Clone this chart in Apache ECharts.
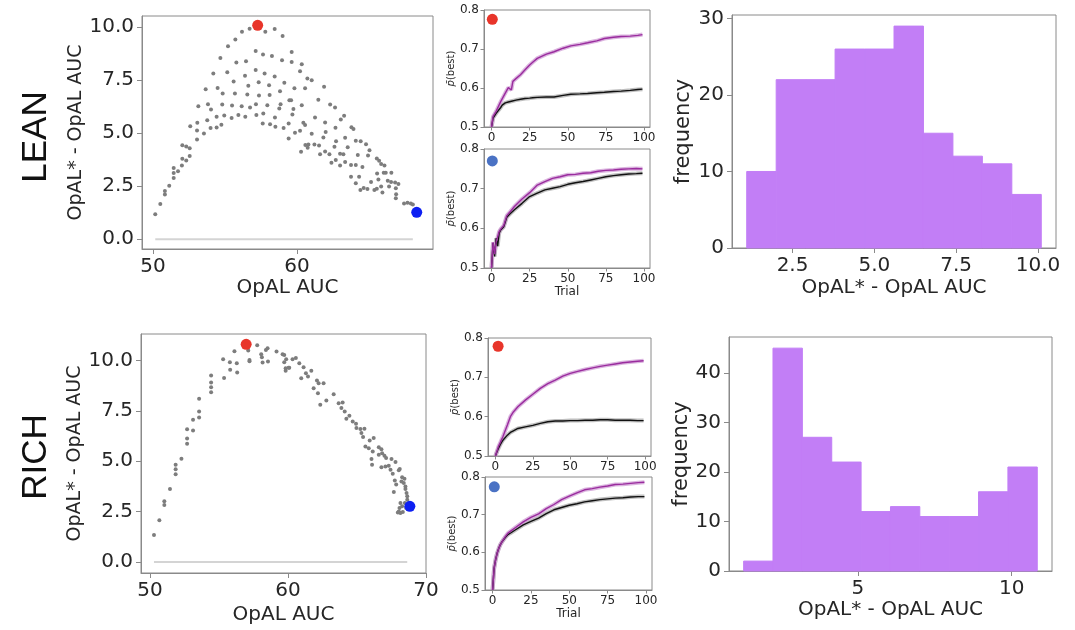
<!DOCTYPE html>
<html>
<head>
<meta charset="utf-8">
<script src="https://cdn.jsdelivr.net/npm/echarts@6/dist/echarts.min.js"></script>
<style>
  html, body { margin: 0; padding: 0; background: #fff; }
  #chart { width: 1075px; height: 630px; }
</style>
</head>
<body>
<div id="chart"></div>
<script>
// ---------- LEAN: OpAL AUC vs. advantage of OpAL* ----------
const leanAuc = [
  50.16, 50.51, 50.83, 50.83, 51.13, 51.44, 51.44, 51.44, 51.74, 52.01, 52.04, 52.31, 52.55, 52.04, 52.31, 52.55,
  52.59, 53.06, 53.06, 53.08, 53.15, 53.54, 53.77, 53.82, 54.03, 54.00, 54.42, 54.75, 53.66, 54.19, 54.42, 54.49,
  54.84, 54.68, 54.81, 54.95, 55.16, 55.21, 55.46, 55.49, 55.60, 55.69, 55.72, 55.79, 55.93, 56.16, 56.18, 56.39,
  56.41, 56.46, 56.55, 56.62, 56.71, 56.74, 57.13, 57.13, 57.15, 57.18, 57.34, 57.36, 57.62, 57.64, 57.66, 57.75,
  57.80, 57.94, 58.06, 58.10, 58.13, 58.26, 58.45, 58.45, 58.47, 58.50, 58.77, 58.82, 58.86, 58.96, 59.00, 59.07,
  59.12, 59.42, 59.42, 59.47,
  59.63, 59.63, 60.33, 60.21, 60.72, 61.02, 59.82, 60.56, 61.88, 59.59, 61.48, 59.75, 60.33, 62.30, 62.64, 59.68,
  61.25, 63.04, 63.27, 60.44, 60.56, 61.95, 63.78, 63.92, 60.21, 59.86, 61.02, 61.99, 62.67, 61.83, 63.34, 64.08,
  64.42, 64.79, 62.71, 60.58, 60.79, 61.21, 61.53, 60.74, 60.28, 61.60, 61.95, 62.25, 62.60, 62.99, 63.22, 63.52,
  64.22, 64.93, 65.03, 65.54, 65.70, 65.84, 66.07, 62.39, 62.69, 62.99, 63.34, 63.75, 64.08, 64.54, 66.02, 66.16,
  66.55, 65.56, 63.75, 64.31, 66.30, 66.53, 66.81, 67.04, 64.08, 65.14, 65.65, 65.37, 65.54, 65.84, 64.40, 64.63,
  64.89, 65.93, 66.39, 66.86, 66.88, 66.86, 67.43, 67.67, 67.90, 68.04
];
const leanGap = [
  1.18, 1.66, 2.27, 2.11, 2.52, 3.36, 3.12, 2.88, 3.20, 3.48, 3.79, 3.71, 3.92, 4.43, 4.37, 4.29,
  5.33, 4.70, 5.13, 5.49, 6.27, 4.98, 5.61, 6.36, 6.11, 5.24, 5.27, 5.39, 7.07, 7.81, 5.77, 7.13,
  6.87, 8.54, 6.35, 5.83, 7.87, 9.09, 5.71, 6.30, 7.43, 6.87, 9.41, 8.33, 5.85, 6.27, 9.78, 7.70,
  5.77, 8.39, 6.82, 7.23, 9.92, 6.21, 8.87, 7.98, 6.36, 5.85, 7.40, 6.77, 5.45, 8.70, 5.93, 7.81,
  9.78, 6.32, 7.26, 6.80, 5.42, 8.64, 7.67, 9.91, 5.74, 5.30, 6.16, 6.97, 6.36, 8.43, 9.58, 5.24,
  7.37, 4.75, 5.45, 6.55,
  8.82, 8.35, 8.25, 7.92, 7.57, 7.49, 7.11, 7.11, 7.19, 6.55, 6.57, 6.14, 6.32, 6.35, 6.21, 5.88,
  5.74, 5.64, 5.82, 5.49, 5.38, 5.50, 5.28, 5.20, 5.11, 5.02, 4.97, 5.05, 5.25, 4.80, 4.78, 4.64,
  4.62, 4.48, 4.62, 4.44, 4.47, 4.47, 4.42, 4.31, 4.12, 4.00, 4.14, 4.01, 4.36, 4.03, 4.00, 4.33,
  3.97, 3.95, 4.19, 3.81, 3.70, 3.55, 3.47, 3.61, 3.73, 3.48, 3.64, 3.50, 3.50, 3.40, 3.13, 3.13,
  3.13, 3.10, 2.95, 2.95, 2.76, 2.70, 2.67, 2.60, 2.64, 2.70, 2.82, 2.32, 2.38, 2.48, 2.32, 2.41,
  2.37, 2.20, 2.48, 2.40, 2.12, 1.93, 1.69, 1.72, 1.69, 1.64
];
const leanBest = [57.27, 10.08];   // parameter set with the largest advantage (red)
const leanWorst = [68.31, 1.27];   // parameter set with the smallest advantage (blue)

// ---------- RICH: OpAL AUC vs. advantage of OpAL* ----------
const richAuc = [
  50.29, 50.68, 51.04, 51.04, 51.45, 51.86, 51.86, 51.86, 52.28, 52.69, 52.69, 52.69, 53.12, 53.12, 53.56, 53.56,
  53.56, 54.43, 54.43, 54.43, 54.43, 55.30, 55.37, 55.79, 55.81, 56.12, 56.29, 56.32, 57.12, 57.21, 57.21, 57.77,
  58.06, 58.11, 58.16, 58.40, 58.52, 58.55, 59.17, 59.61, 59.73, 59.73, 59.83, 59.83, 60.09,
  59.87, 60.04, 60.33, 60.57, 60.82, 61.13, 60.96, 61.30, 61.45, 61.69, 62.10, 62.22, 62.58, 61.86, 62.17, 62.34,
  62.78, 63.31, 63.67, 63.96, 63.87, 64.11, 64.45, 64.23, 64.69, 64.93, 64.96, 65.25, 65.54, 65.32, 65.44, 66.21,
  65.92, 65.61, 65.85, 66.58, 66.77, 66.14, 66.82, 66.58, 66.99, 67.11, 67.50, 67.79, 66.05, 66.09, 66.77, 67.06,
  67.30, 67.43, 67.59, 68.03, 68.10, 68.27, 68.44, 67.74, 67.84, 68.22, 68.39, 68.51, 67.67, 68.51, 68.59, 68.64,
  68.64, 68.15, 68.27, 68.03, 68.15, 68.32, 68.47, 68.56, 68.08, 67.96
];
const richGap = [
  1.34, 2.07, 3.01, 2.83, 3.62, 4.83, 4.60, 4.36, 5.12, 6.59, 6.13, 5.87, 7.06, 6.53, 8.10, 7.47,
  7.17, 9.26, 8.91, 8.68, 8.43, 10.07, 9.13, 9.92, 9.54, 10.46, 9.87, 9.41, 10.50, 10.03, 9.97, 10.76,
  10.32, 10.17, 9.90, 10.53, 10.61, 9.95, 10.45, 10.32, 10.28, 9.92, 9.62, 9.50, 9.65,
  10.07, 9.65, 10.07, 10.13, 9.87, 9.67, 9.12, 9.37, 9.21, 9.49, 9.01, 8.88, 8.88, 8.63, 8.38, 7.80,
  8.02, 8.33, 7.88, 7.92, 7.64, 7.47, 7.26, 7.11, 6.98, 6.86, 6.65, 6.60, 6.61, 6.40, 6.20, 6.15,
  6.03, 5.73, 5.65, 5.70, 5.60, 5.49, 5.40, 5.32, 5.27, 5.16, 5.11, 4.96, 5.11, 4.83, 4.70, 4.74,
  4.78, 4.58, 4.38, 4.55, 4.61, 4.20, 4.13, 4.05, 3.84, 4.00, 3.92, 3.75, 3.47, 3.62, 3.42, 3.26,
  3.09, 2.93, 2.76, 2.51, 2.43, 2.48, 2.93, 2.68, 2.68, 2.46
];
const richBest = [56.97, 10.81];
const richWorst = [68.83, 2.76];

// ---------- learning curves: mean p(best) per trial ----------
const leanTopTrials = [0, 1, 3, 6, 7, 9, 10, 11, 13, 14, 16, 17, 19, 20, 22, 23, 25, 27, 30, 36, 41, 47, 52, 58, 63, 69, 74, 80, 85, 91, 96, 99];
const leanTopOpalStar = [0.500, 0.527, 0.540, 0.565, 0.562, 0.587, 0.583, 0.601, 0.595, 0.617, 0.624, 0.619, 0.634, 0.632, 0.647, 0.644,
  0.659, 0.666, 0.676, 0.687, 0.693, 0.702, 0.708, 0.712, 0.716, 0.721, 0.727, 0.730, 0.732, 0.733, 0.735, 0.737];
const leanTopOpal = [0.500, 0.523, 0.535, 0.550, 0.556, 0.562, 0.563, 0.564, 0.566, 0.567, 0.569, 0.570, 0.571, 0.572, 0.573, 0.573,
  0.574, 0.575, 0.576, 0.577, 0.577, 0.581, 0.584, 0.585, 0.586, 0.588, 0.589, 0.591, 0.592, 0.594, 0.596, 0.597];

const trials = [0, 1, 2, 3, 4, 5, 6, 8, 10, 12, 15, 20, 25, 30, 35, 40, 45, 50, 55, 60, 65, 70, 75, 80, 85, 90, 95, 99];
const leanBottomOpalStar = [0.500, 0.565, 0.535, 0.565, 0.560, 0.592, 0.598, 0.607, 0.632, 0.641, 0.655, 0.674, 0.690, 0.709,
  0.718, 0.726, 0.730, 0.735, 0.736, 0.739, 0.740, 0.744, 0.746, 0.747, 0.749, 0.750, 0.751, 0.750];
const leanBottomOpal = [0.500, 0.563, 0.529, 0.575, 0.555, 0.588, 0.596, 0.604, 0.628, 0.636, 0.647, 0.663, 0.680, 0.689,
  0.697, 0.701, 0.705, 0.711, 0.715, 0.718, 0.722, 0.726, 0.730, 0.733, 0.735, 0.737, 0.738, 0.739];
const richTopOpalStar = [0.500, 0.512, 0.524, 0.532, 0.541, 0.549, 0.559, 0.579, 0.600, 0.612, 0.625, 0.642, 0.657, 0.672,
  0.684, 0.693, 0.703, 0.710, 0.715, 0.720, 0.724, 0.728, 0.731, 0.734, 0.737, 0.739, 0.741, 0.742];
const richTopOpal = [0.500, 0.510, 0.519, 0.527, 0.534, 0.540, 0.545, 0.553, 0.560, 0.564, 0.570, 0.574, 0.578, 0.583,
  0.587, 0.589, 0.589, 0.590, 0.590, 0.591, 0.591, 0.592, 0.592, 0.591, 0.591, 0.591, 0.590, 0.590];
const richBottomOpalStar = [0.500, 0.558, 0.581, 0.598, 0.610, 0.620, 0.627, 0.640, 0.651, 0.657, 0.666, 0.681, 0.693, 0.702,
  0.716, 0.727, 0.740, 0.749, 0.758, 0.766, 0.769, 0.773, 0.776, 0.780, 0.781, 0.783, 0.785, 0.786];
const richBottomOpal = [0.500, 0.558, 0.581, 0.598, 0.610, 0.620, 0.627, 0.638, 0.647, 0.652, 0.660, 0.673, 0.682, 0.691,
  0.703, 0.713, 0.719, 0.725, 0.729, 0.734, 0.737, 0.740, 0.742, 0.744, 0.745, 0.747, 0.748, 0.748];

// marker positions in the learning-curve panels
const leanTopMarker = [0.5, 0.776];
const leanBottomMarker = [0.5, 0.770];
const richTopMarker = [1.8, 0.779];
const richBottomMarker = [1.1, 0.774];

// ---------- histograms of the advantage ----------
const leanBinEdges = [1.10, 2.00, 2.90, 3.80, 4.70, 5.60, 6.50, 7.40, 8.30, 9.20, 10.10];
const leanCounts = [10, 22, 22, 26, 26, 29, 15, 12, 11, 7];
const richBinEdges = [1.286, 2.240, 3.195, 4.150, 5.104, 6.059, 7.013, 7.968, 8.922, 9.877, 10.831];
const richCounts = [2, 45, 27, 22, 12, 13, 11, 11, 16, 21];

// tick labels
const scatterYTicks = [0, 2.5, 5, 7.5, 10];
const leanScatterXTicks = [50, 60];
const richScatterXTicks = [50, 60, 70];
const curveXTicks = [0, 25, 50, 75, 100];
const curveYTicks = [0.5, 0.6, 0.7, 0.8];
const leanHistXTicks = [2.5, 5, 7.5, 10];
const leanHistYTicks = [0, 10, 20, 30];
const richHistXTicks = [5, 10];
const richHistYTicks = [0, 10, 20, 30, 40];

// ---------- styling ----------
const FONT = 'DejaVu Sans';
const SPINE = '#8a8a8a';
const INK = '#262626';
const PURPLE = '#9a2c9e';
const PURPLE_BAND = '#cf9bd4';
const BLACK = '#111111';
const BLACK_BAND = '#a9a9a9';
const DOT = '#7d7d7d';
const RED = '#e8352a';
const BLUE = '#0d1ff2';
const BLUE_SOFT = '#4a72c4';
const HIST = '#c27ef6';

const zip = (xs, ys) => xs.map((x, i) => [x, ys[i]]);
const fixed = d => v => v.toFixed(d);

const grids = [
  { left: 142, top: 16, width: 291, height: 233 },  // 0 lean scatter
  { left: 484, top: 10, width: 166, height: 117 },  // 1 lean curve top
  { left: 484, top: 149, width: 166, height: 119 }, // 2 lean curve bottom
  { left: 732, top: 15, width: 324, height: 233 },  // 3 lean histogram
  { left: 141, top: 334, width: 285, height: 239 }, // 4 rich scatter
  { left: 488, top: 338, width: 163, height: 118 }, // 5 rich curve top
  { left: 485, top: 477, width: 167, height: 113 }, // 6 rich curve bottom
  { left: 729, top: 337, width: 323, height: 234 }  // 7 rich histogram
].map(g => Object.assign({ show: true, borderColor: SPINE, borderWidth: 1, backgroundColor: '#fff', containLabel: false }, g));

function axis(gridIndex, min, max, ticks, fmt, size, extra) {
  return Object.assign({
    type: 'value', gridIndex, min, max, scale: false,
    splitLine: { show: false },
    axisLine: { show: true, onZero: false, lineStyle: { color: SPINE, width: 1 } },
    axisTick: { show: true, length: size > 14 ? 5 : 3.5, customValues: ticks, lineStyle: { color: SPINE } },
    axisLabel: { customValues: ticks, formatter: fmt, fontFamily: FONT, fontSize: size, color: INK, margin: size > 14 ? 8 : 5 }
  }, extra || {});
}
function nameX(name, gap, size) {
  return { name, nameLocation: 'middle', nameGap: gap, nameTextStyle: { fontFamily: FONT, fontSize: size, color: INK } };
}
function nameY(name, gap, size) {
  return { name, nameLocation: 'middle', nameGap: gap, nameRotate: 90, nameTextStyle: { fontFamily: FONT, fontSize: size, color: INK } };
}
const pbest = {
  name: '{i|p\u0304}(best)', nameLocation: 'middle', nameGap: 21, nameRotate: 90,
  nameTextStyle: { fontFamily: FONT, fontSize: 10, color: INK, rich: { i: { fontFamily: FONT, fontSize: 10, fontStyle: 'italic', color: INK } } }
};

const xAxis = [
  axis(0, 49.24, 69.44, leanScatterXTicks, String, 20, nameX('OpAL AUC', 29, 20)),
  axis(1, -4.95, 103.95, curveXTicks, String, 12),
  axis(2, -4.95, 103.95, curveXTicks, String, 12, nameX('Trial', 13, 12)),
  axis(3, 0.65, 10.55, leanHistXTicks, fixed(1), 20, nameX('OpAL* - OpAL AUC', 30, 20)),
  axis(4, 49.35, 70.0, richScatterXTicks, String, 20, nameX('OpAL AUC', 32, 20)),
  axis(5, -4.95, 103.95, curveXTicks, String, 12),
  axis(6, -4.95, 103.95, curveXTicks, String, 12, nameX('Trial', 13, 12)),
  axis(7, 0.81, 11.31, richHistXTicks, String, 20, nameX('OpAL* - OpAL AUC', 29, 20))
];
const yAxis = [
  axis(0, -0.46, 10.52, scatterYTicks, fixed(1), 20, nameY('OpAL* - OpAL AUC', 45, 19)),
  axis(1, 0.5, 0.8, curveYTicks, fixed(1), 12, pbest),
  axis(2, 0.5, 0.8, curveYTicks, fixed(1), 12, pbest),
  axis(3, 0, 30.45, leanHistYTicks, String, 20, nameY('frequency', 38, 21)),
  axis(4, -0.55, 11.32, scatterYTicks, fixed(1), 20, nameY('OpAL* - OpAL AUC', 44, 19)),
  axis(5, 0.5, 0.8, curveYTicks, fixed(1), 12, pbest),
  axis(6, 0.5, 0.8, curveYTicks, fixed(1), 12, pbest),
  axis(7, 0, 47.25, richHistYTicks, String, 20, nameY('frequency', 37, 21))
];

const series = [];

function scatterPanel(idx, xs, ys, best, worst) {
  const lo = Math.min(...xs), hi = Math.max(...xs);
  series.push({
    type: 'line', xAxisIndex: idx, yAxisIndex: idx, data: [[lo, 0], [hi, 0]],
    symbol: 'none', lineStyle: { color: '#d4d4d4', width: 2 }, z: 1, silent: true
  });
  series.push({
    type: 'scatter', xAxisIndex: idx, yAxisIndex: idx, data: zip(xs, ys),
    symbolSize: 4, itemStyle: { color: DOT, opacity: 1 }, z: 2
  });
  series.push({ type: 'scatter', xAxisIndex: idx, yAxisIndex: idx, data: [best], symbolSize: 11,
    itemStyle: { color: RED, opacity: 1 }, z: 3 });
  series.push({ type: 'scatter', xAxisIndex: idx, yAxisIndex: idx, data: [worst], symbolSize: 11,
    itemStyle: { color: BLUE, opacity: 1 }, z: 3 });
}

function curve(idx, xs, ys, color, band) {
  const data = zip(xs, ys);
  series.push({ type: 'line', xAxisIndex: idx, yAxisIndex: idx, data, symbol: 'none',
    lineStyle: { color: band, width: 4, opacity: 0.75 }, z: 1, silent: true });
  series.push({ type: 'line', xAxisIndex: idx, yAxisIndex: idx, data, symbol: 'none',
    lineStyle: { color, width: 1.4 }, z: 2 });
}

function curvePanel(idx, xs, star, opal, marker, markerColor) {
  curve(idx, xs, opal, BLACK, BLACK_BAND);
  curve(idx, xs, star, PURPLE, PURPLE_BAND);
  series.push({ type: 'scatter', xAxisIndex: idx, yAxisIndex: idx, data: [marker], symbolSize: 11,
    itemStyle: { color: markerColor, opacity: 1 }, z: 4 });
}

function histPanel(idx, edges, counts) {
  const data = counts.map((c, i) => [edges[i], edges[i + 1], c]);
  series.push({
    type: 'custom', xAxisIndex: idx, yAxisIndex: idx, data,
    encode: { x: [0, 1], y: 2 },
    renderItem: (params, api) => {
      const p0 = api.coord([api.value(0), api.value(2)]);
      const p1 = api.coord([api.value(1), 0]);
      return {
        type: 'rect',
        shape: { x: p0[0], y: p0[1], width: p1[0] - p0[0], height: p1[1] - p0[1] },
        style: { fill: HIST, stroke: HIST, lineWidth: 1 }
      };
    }
  });
}

scatterPanel(0, leanAuc, leanGap, leanBest, leanWorst);
curvePanel(1, leanTopTrials, leanTopOpalStar, leanTopOpal, leanTopMarker, RED);
curvePanel(2, trials, leanBottomOpalStar, leanBottomOpal, leanBottomMarker, BLUE_SOFT);
histPanel(3, leanBinEdges, leanCounts);
scatterPanel(4, richAuc, richGap, richBest, richWorst);
curvePanel(5, trials, richTopOpalStar, richTopOpal, richTopMarker, RED);
curvePanel(6, trials, richBottomOpalStar, richBottomOpal, richBottomMarker, BLUE_SOFT);
histPanel(7, richBinEdges, richCounts);

const chart = echarts.init(document.getElementById('chart'), null, { renderer: 'canvas' });
chart.setOption({
  animation: false,
  backgroundColor: '#ffffff',
  grid: grids,
  xAxis, yAxis, series,
  graphic: [
    { type: 'text', x: 36, y: 137, rotation: Math.PI / 2,
      style: { text: 'LEAN', font: '35px "Liberation Sans"', fill: '#111', align: 'center', verticalAlign: 'middle' } },
    { type: 'text', x: 36, y: 457, rotation: Math.PI / 2,
      style: { text: 'RICH', font: '35px "Liberation Sans"', fill: '#111', align: 'center', verticalAlign: 'middle' } }
  ]
});
</script>
</body>
</html>
